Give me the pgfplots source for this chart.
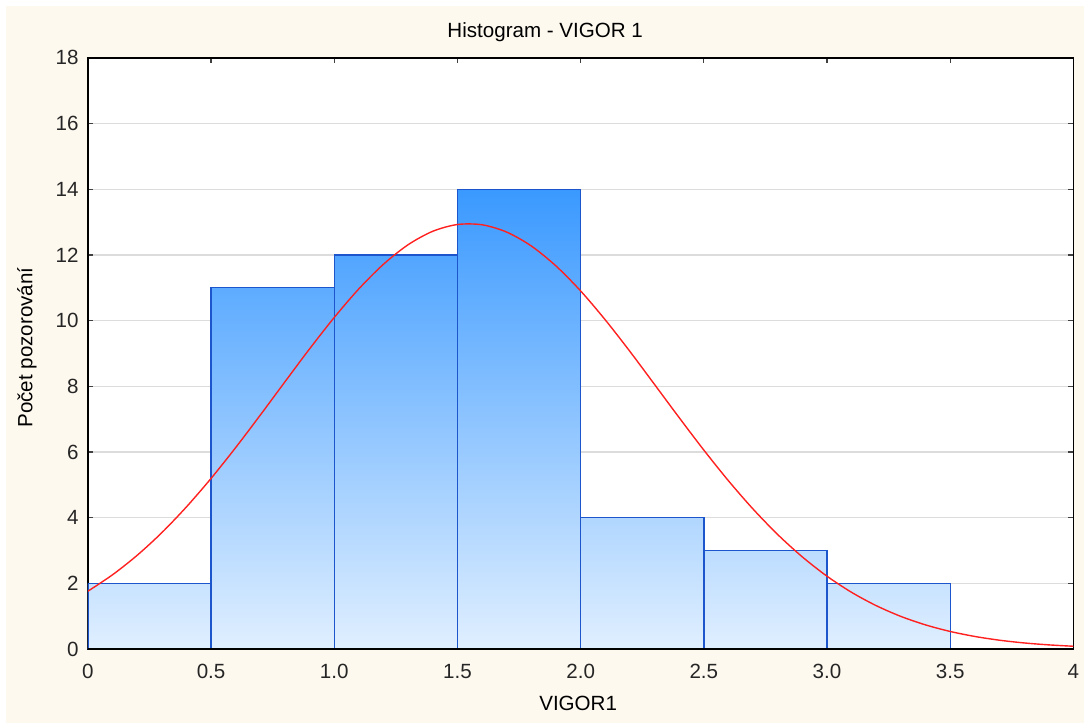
\documentclass[border=0pt]{standalone}
\usepackage{fontspec}
\setmainfont{Liberation Sans}
\usepackage{pgfplots}
\pgfplotsset{compat=1.18}
\definecolor{cream}{HTML}{FEF9EF}
\definecolor{bartop}{HTML}{3A99FF}
\definecolor{barbot}{HTML}{E0EFFF}
\definecolor{barline}{HTML}{1C55CC}
\definecolor{curve}{HTML}{FF2020}
\definecolor{gridc}{HTML}{DCDCDC}
\begin{document}
\fontsize{10.3}{12}\selectfont
\begin{tikzpicture}[x=1pt,y=1pt]
\fill[white] (0,0) rectangle (543,362);
\fill[cream] (3,0) rectangle (543,359);
\node[font=\fontsize{10.3}{12}\selectfont] at (273,346) {Histogram - VIGOR 1};
\node[font=\fontsize{10.3}{12}\selectfont] at (289.5,10) {VIGOR1};
\node[font=\fontsize{10.3}{12}\selectfont, rotate=90] at (13.5,188) {Počet pozorování};
\begin{axis}[
  at={(44pt,37pt)}, anchor=south west,
  scale only axis, width=493.5pt, height=296pt,
  xmin=0, xmax=4, ymin=0, ymax=18,
  axis background/.style={fill=white},
  axis line style={black, line width=0.75pt},
  xtick={0,0.5,1,1.5,2,2.5,3,3.5,4},
  xticklabels={0,0.5,1.0,1.5,2.0,2.5,3.0,3.5,4},
  ytick={0,2,4,6,8,10,12,14,16,18},
  tick align=inside, xtick pos=both, ytick pos=both,
  major tick length=2.5pt,
  tick style={black!75, line width=0.6pt},
  ymajorgrids, major grid style={gridc, line width=0.6pt},
  /pgf/number format/assume math mode=true,
  ticklabel style={font=\fontsize{10.3}{12}\selectfont, text=black!85},
  xticklabel style={yshift=-4pt},
  yticklabel style={xshift=-1pt},
]
\addplot[const plot, draw=none, shading=axis, top color=bartop, bottom color=barbot, forget plot]
  coordinates {(0,2) (0.5,11) (1,12) (1.5,14) (2,4) (2.5,3) (3,2) (3.5,0)} \closedcycle;
\addplot[ybar interval, draw=barline, fill=none, line width=0.7pt, forget plot]
  coordinates {(0,2) (0.5,11) (1,12) (1.5,14) (2,4) (2.5,3) (3,2) (3.5,2)};
\addplot[curve, smooth, line width=0.7pt, mark=none] coordinates {
(0.0,1.761) (0.1,2.261) (0.2,2.854) (0.3,3.543) (0.4,4.328) (0.5,5.196)
(0.6,6.136) (0.7,7.126) (0.8,8.139) (0.9,9.142) (1.0,10.097) (1.1,10.969)
(1.2,11.719) (1.3,12.313) (1.4,12.722) (1.5,12.927) (1.6,12.919) (1.7,12.696)
(1.8,12.272) (1.9,11.664) (2.0,10.904) (2.1,10.023) (2.2,9.062) (2.3,8.056)
(2.4,7.045) (2.5,6.058) (2.6,5.123) (2.7,4.261) (2.8,3.485) (2.9,2.804)
(3.0,2.217) (3.1,1.725) (3.2,1.320) (3.3,0.993) (3.4,0.735) (3.5,0.535)
(3.6,0.383) (3.7,0.269) (3.8,0.186) (3.9,0.127) (4.0,0.085)};
\draw[black, line width=0.75pt] (rel axis cs:0,0) -- (rel axis cs:1,0);
\end{axis}
\end{tikzpicture}
\end{document}
